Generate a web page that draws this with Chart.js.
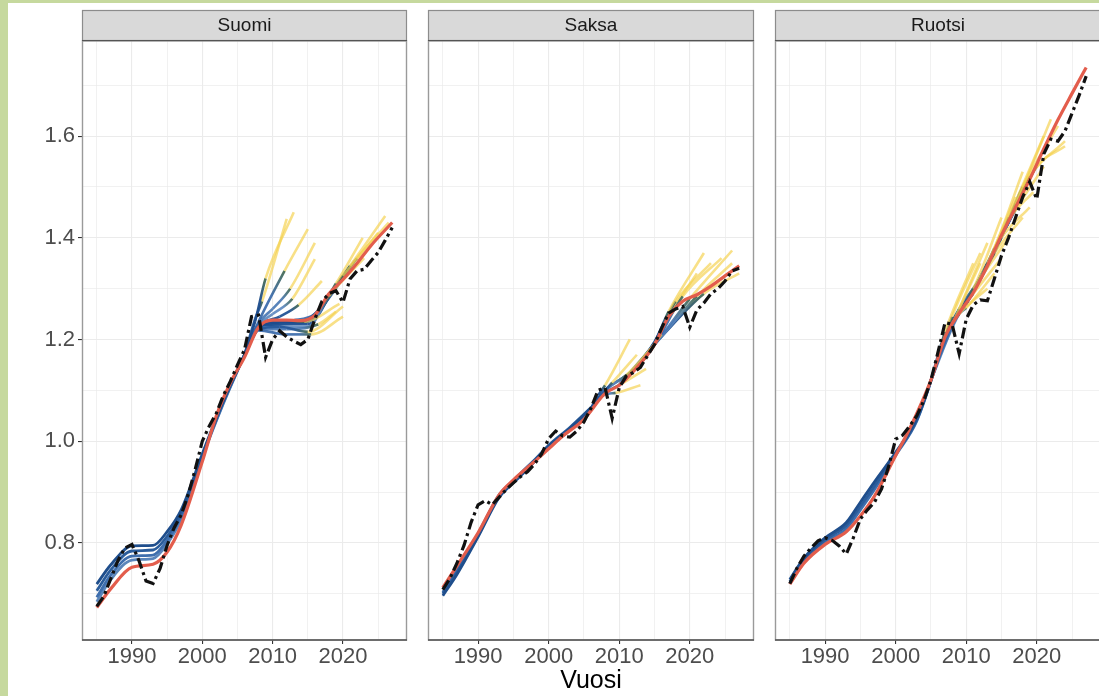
<!DOCTYPE html>
<html>
<head>
<meta charset="utf-8">
<script src="https://cdn.jsdelivr.net/npm/chart.js@4.4.1/dist/chart.umd.min.js"></script>
<style>
  html, body { margin:0; padding:0; width:1099px; height:696px; overflow:hidden; background:#c6d99e; }
  #sheet { position:absolute; left:8px; top:3px; width:1091px; height:693px; background:#fff; }
  .panel { position:absolute; top:0; height:696px; }
</style>
</head>
<body>
<div id="sheet"></div>
<div class="panel" style="left:0;width:410px"><canvas id="c0"></canvas></div>
<div class="panel" style="left:420px;width:340px"><canvas id="c1"></canvas></div>
<div class="panel" style="left:765px;width:340px"><canvas id="c2"></canvas></div>
<script>
// ---- axes / categories
const xTicks = [1985, 1990, 1995, 2000, 2005, 2010, 2015, 2020, 2025];
const yTicks = [0.7, 0.8, 0.9, 1.0, 1.1, 1.2, 1.3, 1.4, 1.5, 1.6, 1.7];
const facetNames = ['Suomi', 'Saksa', 'Ruotsi'];
const actualYears = [
  1985,1986,1987,1988,1989,1990,1991,1992,1993,1994,
  1995,1996,1997,1998,1999,2000,2001,2002,2003,2004,
  2005,2006,2007,2008,2009,2010,2011,2012,2013,2014,
  2015,2016,2017,2018,2019,2020,2021,2022,2023,2024,
  2025,2026,2027];
const historyYears = [1985, 1987, 1990, 1993, 1995, 1997, 2000, 2003, 2006];

// ---- Suomi
const suomiTrendYears = [1985,1987,1990,1993,1995,1997,2000,2002,2004,2006,2008,2010,2012,2014,2016,2018,2020,2022,2024,2027];
const suomiTrend = [0.673,0.71,0.752,0.758,0.782,0.835,0.96,1.05,1.115,1.165,1.224,1.238,1.238,1.237,1.248,1.29,1.318,1.35,1.385,1.43];
const suomiActual = [
  0.675,0.695,0.73,0.765,0.79,0.797,0.765,0.725,0.72,0.75,
  0.795,0.83,0.855,0.895,0.945,1.0,1.03,1.055,1.09,1.118,
  1.15,1.18,1.245,1.248,1.165,1.2,1.217,1.205,1.197,1.19,
  1.2,1.24,1.275,1.29,1.296,1.273,1.319,1.335,1.338,1.355,
  1.371,1.395,1.42];
const suomiHistory = [
  [0.719,0.757,0.794,0.795,0.822,0.865,0.975,1.08,1.17],
  [0.706,0.747,0.784,0.786,0.813,0.858,0.972,1.078,1.17],
  [0.693,0.737,0.774,0.776,0.805,0.852,0.97,1.076,1.17],
  [0.684,0.728,0.766,0.769,0.798,0.846,0.968,1.074,1.17]
];
const suomiTails = [
  [[2006,1.17],[2007.5,1.235],[2009,1.32],[2013,1.45]],
  [[2006,1.17],[2007.5,1.24],[2008.5,1.275],[2012,1.437]],
  [[2006,1.17],[2008,1.235],[2011.7,1.335],[2015,1.417]],
  [[2006,1.17],[2008,1.232],[2010,1.26],[2012.5,1.30],[2016,1.39]],
  [[2006,1.17],[2008,1.228],[2010,1.25],[2012.8,1.28],[2016,1.358]],
  [[2006,1.17],[2008,1.225],[2011,1.245],[2013.7,1.268],[2017,1.315]],
  [[2006,1.17],[2008,1.222],[2011,1.235],[2014.5,1.235],[2019.5,1.27]],
  [[2006,1.17],[2008,1.22],[2011,1.225],[2015,1.215],[2020,1.265]],
  [[2006,1.17],[2008,1.218],[2012,1.21],[2015.5,1.21],[2020,1.245]],
  [[2006,1.17],[2008,1.22],[2012,1.22],[2016.5,1.23],[2019,1.255]],
  [[2006,1.17],[2008,1.222],[2013,1.225],[2015,1.225],[2018,1.285],[2023,1.36]],
  [[2006,1.17],[2008,1.222],[2013,1.23],[2015,1.23],[2019,1.31],[2022.8,1.40]],
  [[2006,1.17],[2008,1.222],[2013,1.232],[2015,1.235],[2020,1.325],[2025,1.41]],
  [[2006,1.17],[2008,1.222],[2013,1.235],[2015,1.24],[2021,1.345],[2026,1.443]],
  [[2006,1.17],[2008,1.222],[2013,1.238],[2016,1.25],[2022,1.36],[2026.5,1.43]]
];
const suomiTailEnd = [2009, 2008.5, 2011.7, 2012.5, 2012.8, 2013.7, 2014.5, 2015, 2015.5, 2016.5, 2018, 2019, 2020, 2021, 2022];

// ---- Saksa
const saksaTrendYears = [1985,1987,1990,1993,1995,1998,2000,2002,2005,2008,2010,2012,2015,2017,2019,2021,2023,2025,2027];
const saksaTrend = [0.712,0.755,0.82,0.895,0.924,0.96,0.985,1.01,1.043,1.094,1.11,1.137,1.19,1.245,1.275,1.288,1.305,1.325,1.345];
const saksaActual = [
  0.708,0.73,0.76,0.795,0.84,0.875,0.883,0.875,0.89,0.905,
  0.918,0.93,0.94,0.955,0.975,1.005,1.02,1.01,1.008,1.02,
  1.038,1.065,1.10,1.105,1.045,1.105,1.128,1.135,1.145,1.168,
  1.19,1.222,1.252,1.26,1.265,1.224,1.258,1.272,1.29,1.30,
  1.315,1.335,1.34];
const saksaHistory = [
  [0.696,0.738,0.812,0.89,0.918,0.945,0.99,1.025,1.065],
  [0.70,0.742,0.815,0.893,0.92,0.948,0.992,1.027,1.066],
  [0.703,0.746,0.818,0.895,0.922,0.95,0.988,1.022,1.063]
];
const saksaTails = [
  [[2006,1.065],[2007,1.09],[2008,1.11],[2011.5,1.20]],
  [[2006,1.065],[2008,1.10],[2009,1.115],[2012.5,1.17]],
  [[2006,1.065],[2008,1.095],[2010,1.11],[2013.8,1.142]],
  [[2006,1.065],[2008,1.092],[2009.5,1.095],[2013,1.11]],
  [[2006,1.065],[2008,1.10],[2011,1.13],[2015,1.19]],
  [[2006,1.065],[2008,1.10],[2012,1.14],[2016,1.21]],
  [[2010,1.11],[2012,1.14],[2015,1.195],[2017,1.255],[2022,1.37]],
  [[2010,1.11],[2012,1.14],[2015,1.195],[2018,1.275],[2023,1.35]],
  [[2010,1.11],[2015,1.19],[2019,1.285],[2024.5,1.36]],
  [[2010,1.11],[2015,1.19],[2020,1.28],[2026,1.375]],
  [[2010,1.11],[2015,1.19],[2021,1.285],[2026,1.35]],
  [[2010,1.11],[2015,1.19],[2016,1.222],[2021,1.33]],
  [[2010,1.11],[2015,1.19],[2022,1.29],[2027,1.33]]
];
const saksaTailEnd = [2008, 2009, 2010, 2009.5, 2011, 2012, 2017, 2018, 2019, 2020, 2021, 2016, 2022];

// ---- Ruotsi
const ruotsiTrendYears = [1985,1987,1990,1993,1995,1997,2000,2002,2005,2007,2009,2011,2013,2015,2017,2019,2021,2023,2025,2027];
const ruotsiTrend = [0.719,0.76,0.797,0.822,0.853,0.892,0.972,1.025,1.12,1.205,1.252,1.292,1.345,1.405,1.46,1.515,1.575,1.632,1.684,1.735];
const ruotsiActual = [
  0.72,0.75,0.774,0.79,0.804,0.81,0.805,0.794,0.778,0.81,
  0.847,0.865,0.88,0.906,0.95,1.004,1.012,1.03,1.05,1.08,
  1.12,1.175,1.233,1.23,1.172,1.24,1.268,1.278,1.276,1.32,
  1.365,1.40,1.44,1.48,1.51,1.476,1.565,1.594,1.59,1.61,
  1.645,1.68,1.718];
const ruotsiHistory = [
  [0.728,0.77,0.81,0.84,0.88,0.92,0.978,1.045,1.16],
  [0.724,0.766,0.806,0.834,0.872,0.912,0.975,1.042,1.16],
  [0.721,0.763,0.802,0.828,0.865,0.905,0.972,1.04,1.16]
];
const ruotsiTails = [
  [[2005,1.12],[2007,1.215],[2011,1.35]],
  [[2005,1.12],[2008,1.245],[2012,1.37]],
  [[2005,1.12],[2008,1.23],[2009,1.25],[2013,1.30]],
  [[2005,1.12],[2009,1.25],[2010,1.262],[2014,1.33]],
  [[2005,1.12],[2007,1.20],[2008,1.23],[2012,1.35]],
  [[2006,1.16],[2009,1.26],[2013,1.39]],
  [[2006,1.16],[2008,1.235],[2011,1.29],[2015,1.36]],
  [[2008,1.235],[2011,1.30],[2015,1.44]],
  [[2006,1.16],[2008,1.235],[2012,1.32],[2016,1.40]],
  [[2008,1.235],[2010,1.275],[2013,1.35],[2017,1.48]],
  [[2008,1.235],[2010,1.27],[2014,1.38],[2018,1.53]],
  [[2010,1.27],[2013,1.345],[2014,1.37],[2018,1.44]],
  [[2008,1.235],[2012,1.32],[2015,1.40],[2019,1.46]],
  [[2010,1.27],[2015,1.405],[2016,1.435],[2019.5,1.49]],
  [[2008,1.235],[2012,1.32],[2016,1.44],[2021,1.60]],
  [[2012,1.32],[2016,1.43],[2017,1.455],[2021,1.54]],
  [[2010,1.27],[2014,1.375],[2017,1.465],[2022,1.633]],
  [[2010,1.27],[2014,1.37],[2018,1.50],[2023,1.62]],
  [[2010,1.27],[2016,1.43],[2019,1.52],[2024,1.59]],
  [[2010,1.27],[2016,1.43],[2020,1.54],[2024,1.58]]
];
const ruotsiTailEnd = [2007, 2008, 2009, 2010, 2008, 2009, 2011, 2011, 2012, 2013, 2014, 2014, 2015, 2016, 2016, 2017, 2017, 2018, 2019, 2020];

// ---- styling
const FONT = '"Liberation Sans", Arial, sans-serif';
const historyBlues = ['#1f4e8c', '#2b5d9c', '#3f6fae', '#5b86bb'];
const tailBlues = ['rgba(29,76,140,0.95)', 'rgba(38,88,155,0.95)', 'rgba(52,102,168,0.9)', 'rgba(70,118,178,0.9)', 'rgba(90,134,190,0.9)', 'rgba(33,82,148,0.95)'];
const yellow = 'rgba(244,210,78,0.68)';
const olive = 'rgba(72,108,82,0.95)';
const padSides = [{left:0, right:3}, {left:8, right:6}, {left:10, right:4}];

const isMajorY = v => Math.round(v * 10) % 2 === 0;
const isMajorX = v => v % 10 === 0;

// facet strip + panel border
const facetPlugin = {
  id: 'facet',
  afterDraw(chart, args, opts) {
    const {ctx, chartArea: a} = chart;
    ctx.save();
    // border
    ctx.strokeStyle = '#9a9a9a'; ctx.lineWidth = 1.4;
    ctx.strokeRect(a.left + 0.5, a.top, a.right - a.left - 1, a.bottom - a.top);
    ctx.strokeStyle = '#555'; ctx.lineWidth = 1.3;
    ctx.beginPath(); ctx.moveTo(a.left, a.bottom); ctx.lineTo(a.right, a.bottom); ctx.stroke();
    // strip
    ctx.fillStyle = '#d9d9d9';
    ctx.fillRect(a.left, 10.5, a.right - a.left, 30);
    ctx.strokeStyle = '#8c8c8c'; ctx.lineWidth = 1.2;
    ctx.strokeRect(a.left + 0.5, 10.5, a.right - a.left - 1, 30);
    ctx.strokeStyle = '#555';
    ctx.beginPath(); ctx.moveTo(a.left, 40.5); ctx.lineTo(a.right, 40.5); ctx.stroke();
    ctx.fillStyle = '#1a1a1a';
    ctx.font = '19px ' + FONT;
    ctx.textAlign = 'center'; ctx.textBaseline = 'middle';
    ctx.fillText(opts.name, (a.left + a.right) / 2, 26);
    ctx.restore();
  }
};

function buildPanel(i, trendYears, trend, actual, history, tails, tailEnd) {
  const canvas = document.getElementById('c' + i);
  const g2d = canvas.getContext('2d');
  const datasets = [];

  // actual (black dash-dot)
  datasets.push({
    data: actualYears.map((yr, k) => [yr, actual[k]]),
    borderColor: '#111', borderWidth: 3.2, borderDash: [11, 4, 3, 4],
    pointRadius: 0, tension: 0, order: 0
  });
  // current trend (red)
  datasets.push({
    data: trendYears.map((yr, k) => [yr, trend[k]]),
    borderColor: '#e35d4c', borderWidth: 3.2, pointRadius: 0,
    cubicInterpolationMode: 'monotone', order: 1
  });
  // earlier vintages: estimate part (blue) + forecast part (yellow)
  tails.forEach((line, t) => {
    const blue = tailBlues[t % tailBlues.length];
    const end = tailEnd[t];
    datasets.push({
      data: line,
      borderWidth: 2.6, pointRadius: 0, order: 2,
      cubicInterpolationMode: 'monotone',
      borderColor: blue,
      segment: {
        borderColor: s => {
          const x1 = line[s.p1DataIndex][0];
          if (x1 > end) return yellow;
          if (x1 === end) {
            const gr = g2d.createLinearGradient(s.p0.x, s.p0.y, s.p1.x, s.p1.y);
            gr.addColorStop(0, blue); gr.addColorStop(0.5, blue); gr.addColorStop(1, olive);
            return gr;
          }
          return blue;
        }
      }
    });
  });
  history.forEach((vals, h) => {
    datasets.push({
      data: historyYears.map((yr, k) => [yr, vals[k]]),
      borderColor: historyBlues[h % historyBlues.length],
      borderWidth: 2.8, pointRadius: 0, order: 3,
      cubicInterpolationMode: 'monotone'
    });
  });

  const first = i === 0;
  return new Chart(canvas, {
    type: 'line',
    data: { datasets },
    plugins: [facetPlugin],
    options: {
      responsive: true, maintainAspectRatio: false, animation: false,
      layout: { padding: { top: 41, bottom: 0, left: padSides[i].left, right: padSides[i].right } },
      plugins: { legend: {display: false}, tooltip: {enabled: false}, facet: {name: facetNames[i]} },
      scales: {
        x: {
          type: 'linear', min: 1982.9, max: 2029.1,
          afterBuildTicks: s => { s.ticks = xTicks.map(v => ({value: v})); },
          afterFit: s => { s.height = 56; },
          border: {display: false},
          grid: {
            color: '#ebebeb', tickLength: 4,
            lineWidth: c => (c.tick && isMajorX(c.tick.value)) ? 1.1 : 0.7,
            tickColor: c => (c.tick && isMajorX(c.tick.value)) ? '#333' : 'rgba(0,0,0,0)'
          },
          ticks: {
            autoSkip: false, maxRotation: 0, padding: 0, color: '#4d4d4d',
            font: {size: 22, family: FONT},
            callback: v => isMajorX(v) ? String(v) : ''
          },
          title: { display: i === 1, text: 'Vuosi', color: '#000', padding: 0, font: {size: 25, family: FONT} }
        },
        y: {
          type: 'linear', min: 0.609, max: 1.787,
          afterBuildTicks: s => { s.ticks = yTicks.map(v => ({value: v})); },
          afterFit: s => { s.width = first ? 82 : 0; },
          border: {display: false},
          grid: {
            color: '#ebebeb', tickLength: 4, drawTicks: first,
            lineWidth: c => (c.tick && isMajorY(c.tick.value)) ? 1.1 : 0.7,
            tickColor: c => (c.tick && isMajorY(c.tick.value)) ? '#333' : 'rgba(0,0,0,0)'
          },
          ticks: {
            display: first, padding: 3, color: '#4d4d4d',
            font: {size: 22, family: FONT},
            callback: v => isMajorY(v) ? v.toFixed(1) : ''
          }
        }
      }
    }
  });
}

buildPanel(0, suomiTrendYears, suomiTrend, suomiActual, suomiHistory, suomiTails, suomiTailEnd);
buildPanel(1, saksaTrendYears, saksaTrend, saksaActual, saksaHistory, saksaTails, saksaTailEnd);
buildPanel(2, ruotsiTrendYears, ruotsiTrend, ruotsiActual, ruotsiHistory, ruotsiTails, ruotsiTailEnd);
</script>
</body>
</html>
